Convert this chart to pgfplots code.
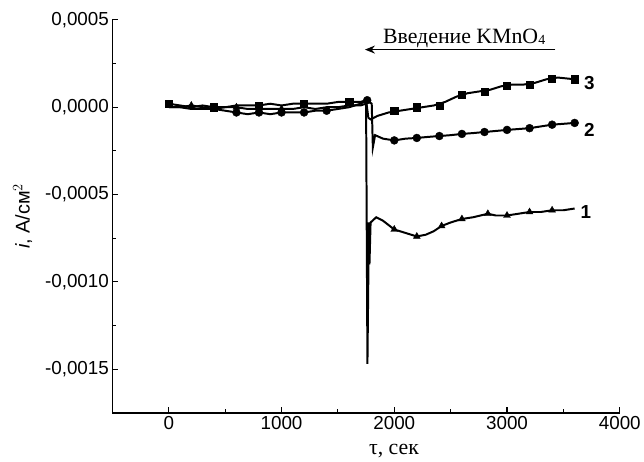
\documentclass[border=0pt]{standalone}
\usepackage{fontspec}
\setmainfont{Liberation Sans}
\newfontfamily\serif{Liberation Serif}
\usepackage{pgfplots}
\pgfplotsset{compat=1.18}
\usetikzlibrary{arrows.meta}

\begin{document}
\begin{tikzpicture}[x=1bp,y=1bp]
\begin{axis}[
    at={(0,0)}, anchor=south west,
    scale only axis,
    width=510bp, height=395bp,
    xmin=-500, xmax=4000,
    ymin=-0.00175, ymax=0.0005,
    axis lines=left,
    axis line style={-, line width=1.5pt},
    tick align=inside,
    major tick length=6bp, minor tick length=4bp,
    every tick/.style={black, line width=1.2pt},
    xtick={0,1000,2000,3000,4000},
    ytick={-0.0015,-0.001,-0.0005,0,0.0005},
    minor x tick num=1, minor y tick num=1,
    scaled y ticks=false,
    scaled x ticks=false,
    yticklabel style={/pgf/number format/.cd, fixed, fixed zerofill, precision=4, use comma, assume math mode=true},
    xticklabel style={/pgf/number format/.cd, fixed, precision=0, set thousands separator={}, assume math mode=true},
    tick label style={font=\fontsize{19}{21}\selectfont},
    xlabel={{\serif τ, сек}},
    xlabel style={font=\fontsize{22}{24}\selectfont, at={(rel axis cs:0.555,0)}, anchor=north, yshift=-28bp},
    ylabel={\textit{i}, А/см$^2$},
    ylabel style={font=\fontsize{20}{22}\selectfont, yshift=6bp},
    clip=false,
]
% curve 3 (squares)
\addplot[black, line width=2pt] coordinates {
 (0,0.00002)(100,0.00001)(200,0.0)(300,0.00001)(400,0.0)(500,0.0)(600,0.00001)(700,0.00001)(800,0.00001)(900,0.00002)(1000,0.00001)(1100,0.00002)(1200,0.00002)(1300,0.00002)(1400,0.00002)(1500,0.00003)(1600,0.00003)(1700,0.00003)(1750,0.00004)(1770,-0.00006)(1790,-0.00007)(1850,-0.00005)(1950,-0.00003)(2050,-0.00002)(2150,-0.00001)(2250,0.0)(2350,0.00001)(2450,0.00003)(2550,0.00006)(2650,0.00008)(2750,0.00009)(2850,0.0001)(2950,0.00012)(3050,0.00013)(3150,0.00013)(3250,0.00014)(3350,0.00016)(3450,0.00017)(3600,0.00016)};
\addplot[only marks, mark=square*, mark size=3.6bp, black] coordinates {
 (0,0.00002)(400,0.0)(800,0.00001)(1200,0.00002)(1600,0.00003)(2000,-0.00002)(2200,0.0)(2400,0.00001)(2600,0.00007)(2800,0.00009)(3000,0.000125)(3200,0.00013)(3400,0.000165)(3600,0.00016)};
% curve 2 (circles)
\addplot[black, line width=2pt] coordinates {
 (0,0.0)(100,0.0)(200,-0.00001)(300,-0.00001)(400,-0.00001)(500,-0.00002)(600,-0.00003)(700,-0.00004)(800,-0.00003)(900,-0.00004)(1000,-0.00003)(1100,-0.00003)(1200,-0.00003)(1300,-0.00002)(1400,-0.00002)(1500,-0.00001)(1600,0.0)(1700,0.00002)(1760,0.00004)(1800,0.00002)(1810,-0.00023)(1830,-0.00016)(1900,-0.00018)(2000,-0.00019)(2100,-0.00018)(2200,-0.000176)(2300,-0.00017)(2400,-0.000165)(2500,-0.00016)(2600,-0.000153)(2700,-0.000148)(2800,-0.000142)(2900,-0.000136)(3000,-0.00013)(3100,-0.000125)(3200,-0.00012)(3300,-0.00011)(3400,-0.0001)(3500,-0.000095)(3600,-0.00009)};
\addplot[only marks, mark=*, mark size=4bp, black] coordinates {
 (600,-0.00003)(800,-0.00003)(1000,-0.00003)(1200,-0.00003)(1400,-0.00002)(1760,0.00004)(2000,-0.00019)(2200,-0.000176)(2400,-0.000165)(2600,-0.000153)(2800,-0.000142)(3000,-0.00013)(3200,-0.00012)(3400,-0.0001)(3600,-0.00009)};
% curve 1 (triangles)
\addplot[black, line width=2pt] coordinates {
 (0,0.0)(100,0.0)(200,0.00001)(300,0.0)(400,-0.00001)(500,0.0)(600,0.0)(700,-0.00001)(800,-0.00001)(900,-0.00001)(1000,-0.00001)(1100,-0.00001)(1200,0.0)(1300,-0.00001)(1400,0.0)(1500,0.0)(1600,0.00001)(1700,0.00001)(1750,0.00002)(1762,-0.00147)(1775,-0.00066)(1780,-0.0009)(1790,-0.00066)(1840,-0.00063)(1900,-0.00065)(2000,-0.0007)(2100,-0.00072)(2200,-0.00074)(2280,-0.00073)(2350,-0.00071)(2420,-0.00068)(2500,-0.00066)(2600,-0.00064)(2700,-0.00063)(2830,-0.00061)(2900,-0.00062)(3000,-0.00062)(3100,-0.00061)(3200,-0.0006)(3300,-0.0006)(3400,-0.00059)(3500,-0.00059)(3600,-0.00058)};
\addplot[only marks, mark=triangle*, mark size=4bp, black] coordinates {
 (200,0.00001)(400,-0.00001)(600,0.0)(1000,-0.00001)(2000,-0.0007)(2200,-0.00074)(2420,-0.00068)(2600,-0.00064)(2830,-0.00061)(3000,-0.00062)(3200,-0.0006)(3400,-0.00059)};
% labels
\node[font=\fontsize{19}{21}\selectfont\bfseries] at (axis cs:3730,0.000136) {3};
\node[font=\fontsize{19}{21}\selectfont\bfseries] at (axis cs:3730,-0.00013) {2};
\node[font=\fontsize{19}{21}\selectfont\bfseries] at (axis cs:3700,-0.0006) {1};
\draw[line width=1.5pt, -{Stealth[length=10bp,width=8bp]}] (axis cs:3430,0.00033) -- (axis cs:1740,0.00033);
\node[anchor=base, font=\serif\fontsize{22}{24}\selectfont] at (axis cs:2620,0.000365) {Введение KMnO\raisebox{-0.1ex}{\fontsize{14}{15}\selectfont 4}};
\end{axis}
\path[use as bounding box] (-113bp,-49bp) rectangle (531bp,415bp);
\end{tikzpicture}
\end{document}
